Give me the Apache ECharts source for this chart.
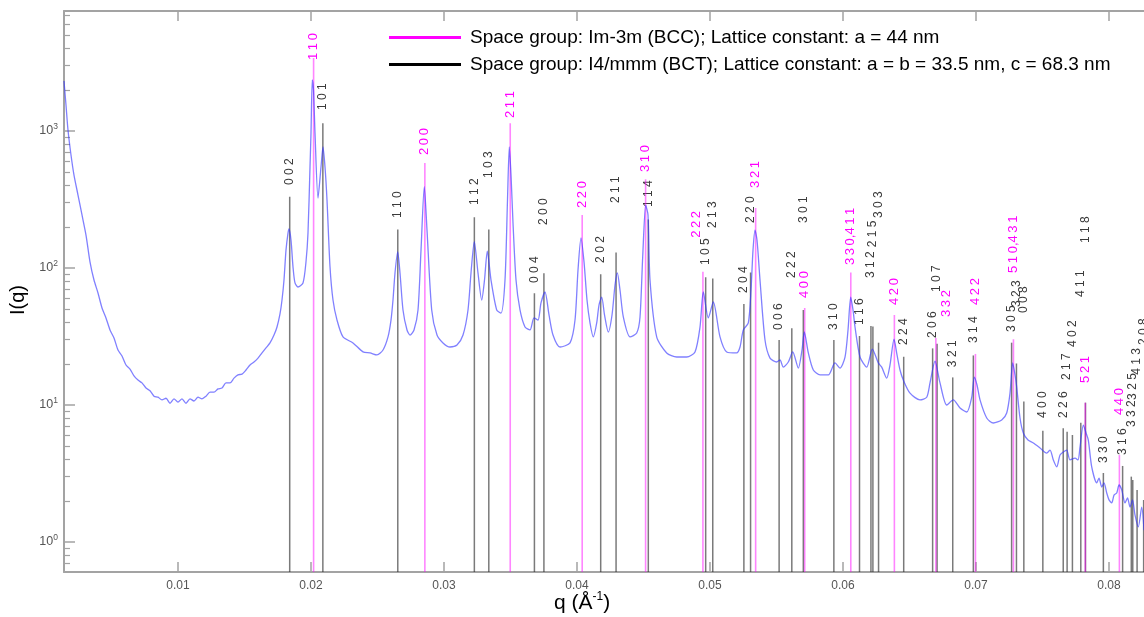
<!DOCTYPE html>
<html>
<head>
<meta charset="utf-8">
<script src="https://cdn.jsdelivr.net/npm/echarts@6/dist/echarts.min.js"></script>
<style>
  html, body { margin: 0; padding: 0; background: #ffffff; }
  #chart { width: 1144px; height: 617px; }
</style>
</head>
<body>
<div id="chart"></div>
<script>
// Measured SAXS profile: scattering vector q (1/Å) and intensity I(q)
const qValues = [
  0.001429, 0.001579, 0.001729, 0.001955, 0.002180, 0.002481, 0.002782, 0.003083, 0.003383, 0.003684,
  0.003985, 0.004286, 0.004586, 0.004887, 0.005188, 0.005489, 0.005789, 0.006090, 0.006391, 0.006692,
  0.006992, 0.007293, 0.007594, 0.007895, 0.008195, 0.008496, 0.008797, 0.009098, 0.009398, 0.009699,
  0.010000, 0.010301, 0.010602, 0.010902, 0.011203, 0.011504, 0.011805, 0.012105, 0.012406, 0.012707,
  0.013008, 0.013308, 0.013609, 0.013910, 0.014211, 0.014511, 0.014812, 0.015113, 0.015414, 0.015714,
  0.016015, 0.016316, 0.016617, 0.016917, 0.017218, 0.017444, 0.017669, 0.017820, 0.017970, 0.018120,
  0.018271, 0.018346, 0.018496, 0.018647, 0.018797, 0.019023, 0.019398, 0.019624, 0.019774, 0.019925,
  0.020000, 0.020098, 0.020188, 0.020301, 0.020526, 0.020752, 0.020902, 0.021053, 0.021203, 0.021429,
  0.021654, 0.021955, 0.022406, 0.023158, 0.023910, 0.024436, 0.024962, 0.025414, 0.025789, 0.026015,
  0.026165, 0.026316, 0.026519, 0.026692, 0.026917, 0.027218, 0.027444, 0.027744, 0.028045, 0.028271,
  0.028519, 0.028722, 0.029075, 0.029474, 0.029925, 0.030451, 0.030977, 0.031429, 0.031805, 0.032030,
  0.032278, 0.032556, 0.032835, 0.033045, 0.033256, 0.033534, 0.033962, 0.034286, 0.034586, 0.034774,
  0.034910, 0.035038, 0.035188, 0.035414, 0.035714, 0.036090, 0.036466, 0.036767, 0.037068, 0.037293,
  0.037594, 0.037895, 0.038195, 0.038722, 0.039474, 0.039850, 0.040075, 0.040301, 0.040526, 0.040752,
  0.040977, 0.041226, 0.041481, 0.041654, 0.041857, 0.042068, 0.042353, 0.042632, 0.042857, 0.043030,
  0.043233, 0.043481, 0.043985, 0.044489, 0.044737, 0.044940, 0.045165, 0.045338, 0.045489, 0.045990,
  0.046742, 0.047496, 0.048248, 0.048872, 0.049248, 0.049496, 0.049872, 0.050248, 0.050752, 0.051256,
  0.052008, 0.052256, 0.052504, 0.052880, 0.053083, 0.053233, 0.053383, 0.053534, 0.053759, 0.054135,
  0.054511, 0.055015, 0.055263, 0.055511, 0.055887, 0.056218, 0.056639, 0.056917, 0.057090, 0.057391,
  0.057767, 0.058271, 0.058895, 0.059398, 0.059774, 0.060150, 0.060376, 0.060579, 0.060752, 0.060902,
  0.061278, 0.061782, 0.062203, 0.062654, 0.062910, 0.063286, 0.063534, 0.063835, 0.064060, 0.064286,
  0.064534, 0.065038, 0.065789, 0.066293, 0.066541, 0.066917, 0.067293, 0.067797, 0.068293, 0.068797,
  0.069301, 0.069677, 0.069872, 0.070075, 0.070301, 0.070805, 0.071301, 0.071932, 0.072308, 0.072556,
  0.072759, 0.072932, 0.073060, 0.073308, 0.073556, 0.073910, 0.074308, 0.074812, 0.075316, 0.075564,
  0.075812, 0.076068, 0.076316, 0.076564, 0.076820, 0.077068, 0.077444, 0.077669, 0.077820, 0.078068,
  0.078271, 0.078444, 0.078699, 0.079075, 0.079248, 0.079451, 0.079624, 0.079827, 0.080000, 0.080203,
  0.080376, 0.080579, 0.080752, 0.080955, 0.081203, 0.081391, 0.081579, 0.081767, 0.081955, 0.082203,
  0.082459, 0.082632
];
const intensity = [
  2317, 1549, 1017, 668, 477, 341, 244, 174, 111, 81.7,
  65.7, 51.1, 43.2, 35.3, 30.8, 25.2, 22.8, 19.6, 18.3, 16.3,
  15.2, 14.5, 13.3, 12.7, 11.6, 11.4, 10.9, 11.2, 10.3, 11.1,
  10.5, 11.1, 10.3, 11.1, 10.7, 11.4, 11.1, 11.6, 12.4, 12.4,
  13.1, 13.3, 14.5, 14.5, 15.7, 16.6, 16.8, 18.0, 19.6, 20.6,
  22.0, 24.0, 26.1, 28.4, 32.4, 37.1, 46.2, 58.4, 81.7, 135,
  180, 193, 160, 102, 77.8, 72.7, 77.8, 111, 180, 546,
  967, 2356, 1991, 967, 324, 546, 764, 546, 314, 102,
  58.4, 41.7, 31.4, 28.4, 24.4, 24.0, 23.2, 25.2, 31.4, 41.7,
  58.4, 92, 131, 92, 49.4, 35.3, 32.4, 35.3, 49.4, 135,
  392, 189, 49.4, 32.4, 28.4, 26.5, 27.4, 32.4, 49.4, 92,
  156, 92, 58.4, 81.7, 133, 81.7, 49.4, 46.9, 81.7, 314,
  764, 477, 213, 81.7, 49.4, 37.1, 35.3, 43.2, 41.7, 55.6,
  66.8, 45.4, 32.4, 26.5, 28.4, 41.7, 96.7, 166, 111, 58.4,
  39.7, 31.4, 39.7, 53.7, 61.4, 45.4, 34.1, 45.4, 75.1, 92,
  69.1, 43.9, 31.4, 33.5, 43.9, 121, 288, 244, 81.7, 31.4,
  24.0, 22.4, 22.4, 24.4, 37.1, 66.8, 43.2, 56.5, 31.4, 24.4,
  24.0, 26.5, 35.3, 39.7, 69.1, 135, 189, 160, 81.7, 29.8,
  22.0, 20.6, 21.3, 18.9, 20.6, 24.4, 18.6, 25.2, 34.1, 24.0,
  18.0, 16.6, 16.6, 20.3, 18.6, 22.4, 35.3, 61.4, 49.4, 37.1,
  22.4, 18.9, 25.6, 20.3, 18.9, 15.7, 19.6, 30.3, 23.2, 18.0,
  15.2, 12.2, 10.9, 11.4, 14.5, 20.9, 14.5, 10.0, 10.9, 9.51,
  8.89, 11.4, 16.0, 14.0, 10.9, 8.04, 7.39, 7.78, 8.74, 12.2,
  20.3, 16.6, 13.5, 8.04, 6.25, 5.55, 5.28, 4.86, 4.46, 4.69,
  3.97, 3.53, 4.32, 4.54, 4.69, 3.97, 4.10, 3.97, 4.94, 7.14,
  6.25, 5.55, 3.53, 2.70, 2.93, 2.52, 2.70, 2.28, 2.03, 1.93,
  2.20, 2.28, 2.61, 2.40, 1.93, 2.10, 1.80, 2.03, 1.57, 1.29,
  1.80, 1.22
];

// Im-3m (BCC), a = 44 nm: reflection positions, marker heights and label heights
const bccHkl = ['110', '200', '211', '220', '310', '222', '321', '400', '330,411', '420', '332', '422', '510,431', '521', '440'];
const bccQ = [0.020195, 0.028560, 0.034979, 0.040390, 0.045157, 0.049467, 0.053431, 0.057120, 0.060585, 0.063862, 0.066979, 0.069957, 0.072814, 0.078215, 0.080780];
const bccTop = [3413, 583, 1138, 244, 444, 94, 274, 51, 92.6, 45.4, 30.8, 23.6, 30.2, 10.4, 4.31];
const bccLabelAt = [3297, 668, 1244, 274, 502, 166, 384, 60.4, 105, 53.7, 43.9, 53.7, 92, 14.5, 8.45];

// I4/mmm (BCT), a = b = 33.5 nm, c = 68.3 nm
const bctHkl = ['0 0 2', '1 0 1', '1 1 0', '1 1 2', '1 0 3', '0 0 4', '2 0 0', '2 0 2', '2 1 1', '1 1 4',
  '1 0 5', '2 1 3', '2 0 4', '2 2 0', '0 0 6', '2 2 2', '3 0 1', '3 1 0', '1 1 6', '3 1 2',
  '2 1 5', '3 0 3', '2 2 4', '2 0 6', '1 0 7', '3 2 1', '3 1 4', '3 0 5', '3 2 3', '0 0 8',
  '4 0 0', '2 2 6', '2 1 7', '4 0 2', '4 1 1', '1 1 8', '3 3 0', '3 1 6', '3 3 2', '3 2 5',
  '4 1 3', '2 0 8'];
const bctQ = [0.018399, 0.020891, 0.026525, 0.032282, 0.033368, 0.036798, 0.037512, 0.041781, 0.042937, 0.045361,
  0.049674, 0.050206, 0.052547, 0.053050, 0.055196, 0.056150, 0.057016, 0.059312, 0.061240, 0.062100,
  0.062247, 0.062672, 0.064563, 0.066737, 0.067072, 0.068249, 0.069799, 0.072676, 0.073040, 0.073595,
  0.075024, 0.076557, 0.076849, 0.077248, 0.077878, 0.078230, 0.079575, 0.081022, 0.081675, 0.081786,
  0.082110, 0.082604];
const bctTop = [331, 1138, 191, 235, 191, 65.3, 91.4, 90, 130, 226,
  85.5, 84, 54.6, 92.6, 29.8, 36.3, 49.4, 29.8, 31.9, 37.7,
  37.4, 28.5, 22.5, 25.9, 28, 15.9, 23.0, 28.5, 20.1, 10.6,
  6.49, 6.76, 6.38, 6.04, 7.43, 10.4, 3.19, 3.59, 3.0, 2.84,
  2.4, 2.03];
const bctLabelAt = [403, 1423, 232, 288, 454, 77.8, 206, 109, 298, 279,
  105, 196, 65.7, 213, 35.3, 84.5, 213, 35.3, 38.4, 84.5,
  142, 232, 27.4, 30.8, 66.8, 18.9, 28.4, 34.1, 51.9, 46.9,
  8.04, 8.04, 15.2, 26.5, 61.4, 152, 3.77, 4.32, 6.91, 10.9,
  16.6, 27.4];

// Axis ticks
const xTicks = [0.01, 0.02, 0.03, 0.04, 0.05, 0.06, 0.07, 0.08];
const yMajorTicks = [1, 10, 100, 1000];
const yMinorTicks = [0.7, 0.8, 0.9, 2, 3, 4, 5, 6, 7, 8, 9, 20, 30, 40, 50, 60, 70, 80, 90,
  200, 300, 400, 500, 600, 700, 800, 900, 2000, 3000, 4000, 5000, 6000, 7000];

const bccName = 'Space group: Im-3m (BCC); Lattice constant: a = 44 nm';
const bctName = 'Space group: I4/mmm (BCT); Lattice constant: a = b = 33.5 nm, c = 68.3 nm';

const X_MIN = 0.001429, X_MAX = 0.08263;
const Y_MIN = 0.604, Y_MAX = 7516;
const FONT = '"Liberation Sans", Arial, Helvetica, sans-serif';
const FRAME = '#a3a3a3';
const TICK_TEXT = '#555555';

// Magenta indices are drawn with a thin gap between the digits
const spaced = s => s.split(',').map(p => p.split('').join('\u2009')).join(',');

function reflectionSeries(name, q, top, labelAt, hkl, cfg) {
  return {
    name: name,
    type: 'custom',
    z: cfg.z,
    silent: true,
    itemStyle: { color: cfg.legendColor },
    encode: { x: 0, y: 1 },
    data: q.map((v, i) => [v, top[i], labelAt[i]]),
    renderItem: function (params, api) {
      const i = params.dataIndex;
      const qv = api.value(0);
      const base = api.coord([qv, Y_MIN]);
      const tip = api.coord([qv, api.value(1)]);
      const lab = api.coord([qv, api.value(2)]);
      return {
        type: 'group',
        children: [
          {
            type: 'line',
            shape: { x1: base[0], y1: base[1], x2: tip[0], y2: tip[1] },
            style: { stroke: cfg.lineColor, lineWidth: cfg.lineWidth }
          },
          {
            type: 'text',
            x: lab[0] + (cfg.labelShift[hkl[i]] || 0),
            y: lab[1],
            rotation: Math.PI / 2,
            style: {
              text: cfg.format(hkl[i]),
              fill: cfg.textColor,
              font: cfg.font,
              align: 'left',
              verticalAlign: 'middle'
            }
          }
        ]
      };
    }
  };
}

const chart = echarts.init(document.getElementById('chart'), null, { renderer: 'canvas' });

chart.setOption({
  animation: false,
  backgroundColor: '#ffffff',
  grid: { left: 64, top: 11, right: 0, bottom: 45, containLabel: false },
  legend: {
    orient: 'vertical',
    left: 384,
    top: 23,
    itemWidth: 72,
    itemHeight: 3,
    itemGap: 8,
    icon: 'rect',
    selectedMode: false,
    textStyle: { fontFamily: FONT, fontSize: 19, color: '#000000', padding: [0, 0, 0, 4] },
    data: [
      { name: bccName, itemStyle: { color: '#ff00ff' } },
      { name: bctName, itemStyle: { color: '#000000' } }
    ]
  },
  xAxis: [
    {
      type: 'value',
      min: X_MIN,
      max: X_MAX,
      position: 'bottom',
      axisLine: { show: true, onZero: false, lineStyle: { color: FRAME, width: 2 } },
      axisTick: { show: true, inside: true, length: 10, customValues: xTicks, lineStyle: { color: FRAME, width: 1.5 } },
      axisLabel: {
        customValues: xTicks,
        margin: 8,
        color: TICK_TEXT,
        fontFamily: FONT,
        fontSize: 12,
        formatter: v => String(Number(v.toFixed(2)))
      },
      splitLine: { show: false }
    },
    {
      type: 'value',
      min: X_MIN,
      max: X_MAX,
      position: 'top',
      axisLine: { show: true, onZero: false, lineStyle: { color: FRAME, width: 2 } },
      axisTick: { show: true, inside: true, length: 10, customValues: xTicks, lineStyle: { color: FRAME, width: 1.5 } },
      axisLabel: { show: false },
      splitLine: { show: false }
    }
  ],
  yAxis: [
    {
      type: 'log',
      logBase: 10,
      min: Y_MIN,
      max: Y_MAX,
      position: 'left',
      axisLine: { show: true, onZero: false, lineStyle: { color: FRAME, width: 2 } },
      axisTick: { show: true, inside: true, length: 11, customValues: yMajorTicks, lineStyle: { color: FRAME, width: 1.5 } },
      axisLabel: {
        customValues: yMajorTicks,
        margin: 6,
        formatter: v => '{b|10}{s|' + Math.round(Math.log10(v)) + '}',
        rich: {
          b: { fontFamily: FONT, fontSize: 12.5, color: TICK_TEXT, lineHeight: 18 },
          s: { fontFamily: FONT, fontSize: 8.5, color: TICK_TEXT, lineHeight: 10, verticalAlign: 'top' }
        }
      },
      splitLine: { show: false }
    },
    {
      type: 'log',
      logBase: 10,
      min: Y_MIN,
      max: Y_MAX,
      position: 'left',
      axisLine: { show: false },
      axisTick: { show: true, inside: true, length: 6, customValues: yMinorTicks, lineStyle: { color: FRAME, width: 1.2 } },
      axisLabel: { show: false },
      splitLine: { show: false }
    }
  ],
  graphic: [
    {
      type: 'text',
      x: 18,
      y: 300,
      rotation: Math.PI / 2,
      style: { text: 'I(q)', font: '20px ' + FONT, fill: '#000000', align: 'center', verticalAlign: 'middle' }
    },
    {
      type: 'text',
      left: 554,
      top: 591,
      style: {
        text: '{a|q (Å}{s|-1}{a|)}',
        rich: {
          a: { fontFamily: FONT, fontSize: 21, color: '#000000', lineHeight: 25 },
          s: { fontFamily: FONT, fontSize: 12, color: '#000000', lineHeight: 13, verticalAlign: 'top' }
        }
      }
    }
  ],
  series: [
    reflectionSeries(bctName, bctQ, bctTop, bctLabelAt, bctHkl, {
      z: 2,
      legendColor: '#000000',
      lineColor: 'rgba(40,40,40,0.62)',
      lineWidth: 1.5,
      textColor: '#3a3a3a',
      font: '12px ' + FONT,
      format: s => s,
      labelShift: {}
    }),
    reflectionSeries(bccName, bccQ, bccTop, bccLabelAt, bccHkl, {
      z: 3,
      legendColor: '#ff00ff',
      lineColor: 'rgba(255,0,255,0.48)',
      lineWidth: 1.6,
      textColor: '#ff00ff',
      font: '13px ' + FONT,
      format: spaced,
      labelShift: { '332': 11, '222': -6 }
    }),
    {
      name: 'I(q)',
      type: 'line',
      z: 4,
      silent: true,
      showSymbol: false,
      smooth: 0.25,
      lineStyle: { color: 'rgba(50,50,255,0.62)', width: 1.3 },
      data: qValues.map((q, i) => [q, intensity[i]])
    }
  ]
});
</script>
</body>
</html>
